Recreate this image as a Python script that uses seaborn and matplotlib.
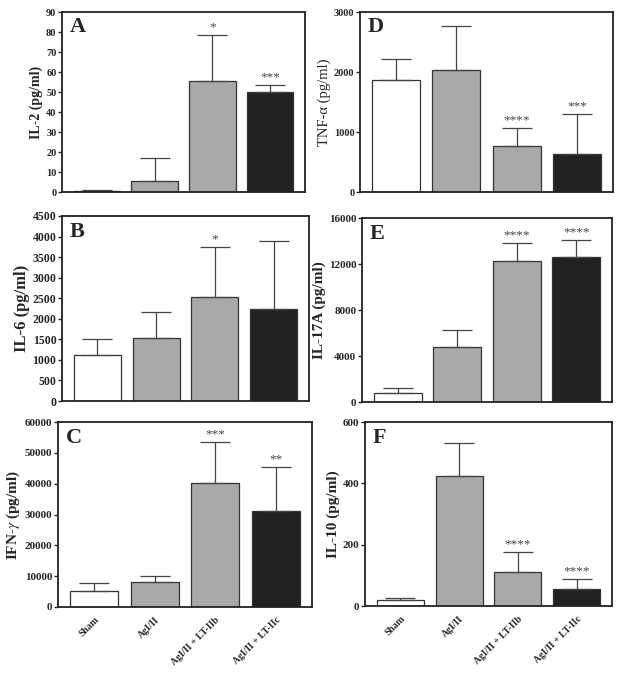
import numpy as np
import pandas as pd
import matplotlib
matplotlib.use("Agg")
import matplotlib.pyplot as plt
import seaborn as sns

# Data
groups = ["Sham", "AgI/II", "AgI/II + LT-IIb", "AgI/II + LT-IIc"]
bar_colors = ["#ffffff", "#a9a9a9", "#a9a9a9", "#222222"]

il2_mean = [0.5, 5.5, 55.5, 50.0]
il2_err = [0.6, 11.5, 23.0, 3.5]
il2_stars = ["", "", "*", "***"]

tnf_mean = [1870, 2040, 760, 640]
tnf_err = [340, 730, 300, 660]
tnf_stars = ["", "", "****", "***"]

il6_mean = [1110, 1530, 2540, 2230]
il6_err = [410, 630, 1200, 1650]
il6_stars = ["", "", "*", ""]

il17_mean = [800, 4750, 12300, 12600]
il17_err = [400, 1500, 1500, 1450]
il17_stars = ["", "", "****", "****"]

ifn_mean = [5200, 8100, 40300, 31000]
ifn_err = [2600, 2000, 13200, 14300]
ifn_stars = ["", "", "***", "**"]

il10_mean = [18, 425, 112, 57]
il10_err = [9, 105, 63, 30]
il10_stars = ["", "", "****", "****"]

sns.set_style("ticks")
plt.rcParams["font.family"] = ["Liberation Serif", "DejaVu Serif"]
plt.rcParams["mathtext.fontset"] = "stix"

fig = plt.figure(figsize=(6.26, 6.73), dpi=100)
W, H = 626, 673


def add_axes(left, top, right, bottom):
    return fig.add_axes([left / W, 1 - bottom / H, (right - left) / W, (bottom - top) / H])


panels = [
    # letter, means, errs, stars, ylabel, yticks, box, bold label, show x labels, label size, tick size
    ("A", il2_mean, il2_err, il2_stars, "IL-2 (pg/ml)", np.arange(0, 91, 10), (62, 12, 305, 192), True, False, 10, 7.5),
    ("D", tnf_mean, tnf_err, tnf_stars, "TNF-\u03b1 (pg/ml)", [0, 1000, 2000, 3000], (360, 12, 613, 192), False, False, 10.5, 7.5),
    ("B", il6_mean, il6_err, il6_stars, "IL-6 (pg/ml)", np.arange(0, 4501, 500), (62, 216, 309, 401), True, False, 12, 8.5),
    ("E", il17_mean, il17_err, il17_stars, "IL-17A (pg/ml)", [0, 4000, 8000, 12000, 16000], (362, 218, 612, 402), True, False, 11, 8),
    ("C", ifn_mean, ifn_err, ifn_stars, "IFN-$\\gamma$ (pg/ml)", np.arange(0, 60001, 10000), (58, 422, 312, 607), True, True, 11, 8),
    ("F", il10_mean, il10_err, il10_stars, "IL-10 (pg/ml)", [0, 200, 400, 600], (365, 422, 612, 606), True, True, 11, 8),
]

for letter, means, errs, stars, ylabel, yticks, box, bold, show_x, lab_fs, tick_fs in panels:
    ax = add_axes(*box)
    df = pd.DataFrame({"group": groups, "value": means})
    sns.barplot(data=df, x="group", y="value", hue="group", palette=bar_colors,
                legend=False, ax=ax, width=0.8, edgecolor="#333333", linewidth=0.9,
                errorbar=None)
    x = np.arange(len(groups))
    ax.errorbar(x, means, yerr=[np.zeros(len(errs)), errs], fmt="none",
                ecolor="#444444", elinewidth=0.9, capsize=11, capthick=0.9, zorder=1)
    for xi, m, e, s in zip(x, means, errs, stars):
        if s:
            ax.annotate(s, (xi, m + e), xytext=(0, 1.5), textcoords="offset points",
                        ha="center", va="bottom", fontsize=9.5, color="#444444")
    ax.set_xlim(-0.6, 3.6)
    ax.set_ylim(yticks[0], yticks[-1])
    ax.set_yticks(yticks)
    ax.set_yticklabels([str(int(t)) for t in yticks], fontsize=tick_fs, fontweight="bold")
    ax.set_ylabel(ylabel, fontsize=lab_fs, fontweight="bold" if bold else "normal", labelpad=2)
    ax.set_xlabel("")
    ax.tick_params(axis="y", length=3, width=1, pad=1)
    ax.tick_params(axis="x", length=0, pad=6)
    if show_x:
        ax.set_xticks(x)
        ax.set_xticklabels(groups, rotation=45, ha="right", rotation_mode="anchor",
                           fontsize=7, fontweight="bold")
    else:
        ax.set_xticks([])
    for sp in ax.spines.values():
        sp.set_linewidth(1.3)
        sp.set_color("#222222")
    ax.text(0.03, 0.97, letter, transform=ax.transAxes, ha="left", va="top",
            fontsize=16, fontweight="bold")

fig.savefig("out.png", dpi=100)
